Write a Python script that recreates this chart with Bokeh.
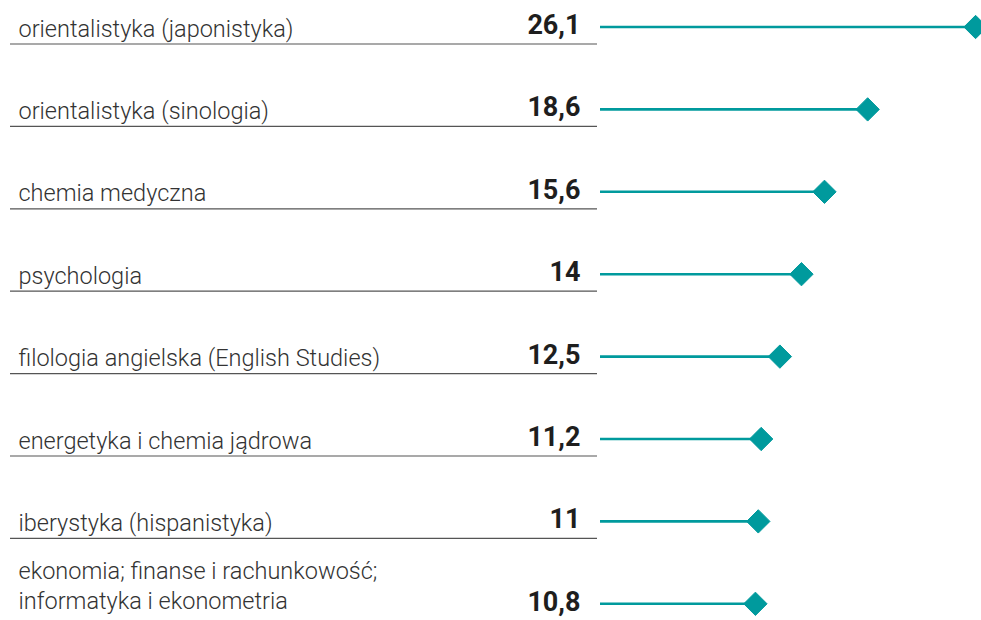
from math import pi
from bokeh.plotting import figure
from bokeh.models import Range1d
from bokeh.core.properties import value
from bokeh.embed import file_html
from bokeh.resources import INLINE

labels = [
    "orientalistyka (japonistyka)",
    "orientalistyka (sinologia)",
    "chemia medyczna",
    "psychologia",
    "filologia angielska (English Studies)",
    "energetyka i chemia jądrowa",
    "iberystyka (hispanistyka)",
    "ekonomia; finanse i rachunkowość;\ninformatyka i ekonometria",
]
values = [26.1, 18.6, 15.6, 14.0, 12.5, 11.2, 11.0, 10.8]
value_texts = ["26,1", "18,6", "15,6", "14", "12,5", "11,2", "11", "10,8"]

TEAL = "#009a9d"
W, H = 981, 620
X_SCALE = 14.39          # px per unit
X_ORIGIN = 599.5         # px from figure left where value 0 sits
ROW_PX = 82.4
ROW_TOP = 26.5

rows = list(range(len(labels)))

p = figure(width=W, height=H, output_backend="svg", toolbar_location=None,
           x_range=Range1d(-X_ORIGIN / X_SCALE, (W - X_ORIGIN) / X_SCALE),
           y_range=Range1d((H - ROW_TOP) / ROW_PX, -ROW_TOP / ROW_PX),
           min_border=0, outline_line_color=None)
p.axis.visible = False
p.grid.visible = False
p.background_fill_color = "white"
p.border_fill_color = "white"

px_x = 1 / X_SCALE
px_y = 1 / ROW_PX

# underlines under labels
p.segment(x0=[-590 * px_x] * len(rows), x1=[-3 * px_x] * len(rows),
          y0=[r + 17 * px_y for r in rows], y1=[r + 17 * px_y for r in rows],
          line_color="#555555", line_width=1.2)

# lollipop lines
p.segment(x0=[0] * len(rows), x1=values, y0=rows, y1=rows,
          line_color=TEAL, line_width=2.6)
p.scatter(x=values, y=rows, marker="square", angle=pi / 4, size=16.5,
          fill_color=TEAL, line_color=TEAL)

# labels (multi-line handled line by line, bottom line sits on underline)
lx, ly, lt = [], [], []
LINE_H = 30
for r, lab in zip(rows, labels):
    parts = lab.split("\n")
    n = len(parts)
    base = 1.5 if n == 1 else -3.0
    for k, part in enumerate(parts):
        lx.append(0)
        ly.append(r + (base - (n - 1 - k) * LINE_H) * px_y)
        lt.append(part)
p.text(x=lx, y=ly, text=lt, x_offset=-581.5, text_baseline="alphabetic",
       text_align="left", text_font=value("Roboto Light"),
       text_font_size="23.5px", text_color="#333333")

# values
p.text(x=[0] * len(rows), y=[r - 3 * px_y for r in rows], text=value_texts,
       x_offset=-19.5, text_align="right", text_baseline="alphabetic",
       text_font=value("Roboto"), text_font_style="bold",
       text_font_size="27px", text_color="#1e1e1e")

open("out.html", "w").write(file_html(p, INLINE))
